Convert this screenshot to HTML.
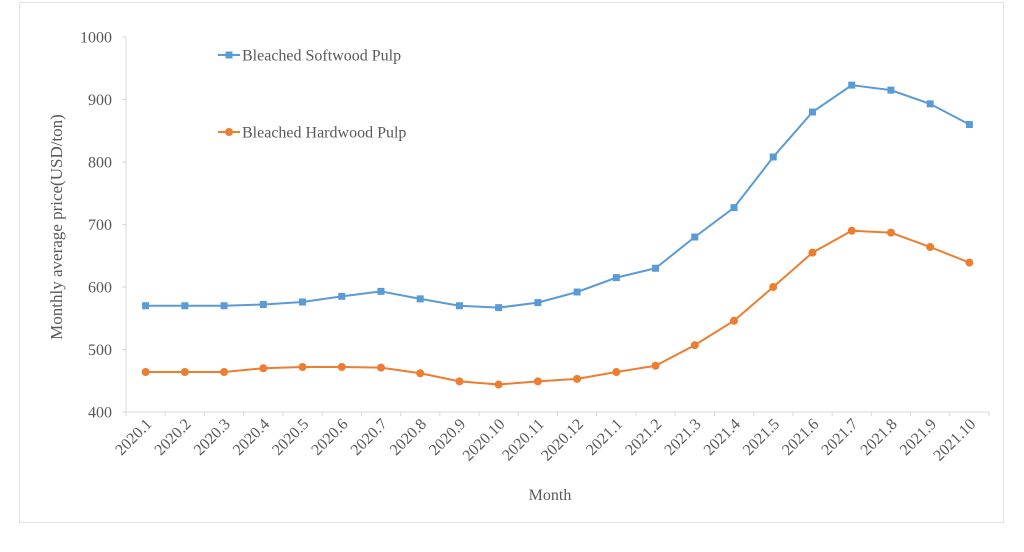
<!DOCTYPE html>
<html><head><meta charset="utf-8"><style>
body{margin:0;background:#fff;}
svg{display:block;font-family:"Liberation Serif",serif;}
</style></head><body>
<svg id="chart" width="1024" height="552" viewBox="0 0 1024 552">
<rect x="19.5" y="2.5" width="984" height="520" fill="#fff" stroke="#e3e3e3"/>
<g id="axes"></g>
<g id="series"></g>
<g>
 <g>
  <line x1="218" y1="55" x2="240" y2="55" stroke="#5b9bd5" stroke-width="2"/>
  <rect x="225.5" y="51.5" width="7" height="7" fill="#5b9bd5"/>
  <text x="242" y="60.5" font-size="16" fill="#595959">Bleached Softwood Pulp</text>
 </g>
 <g>
  <line x1="218" y1="132" x2="240" y2="132" stroke="#ed7d31" stroke-width="2"/>
  <circle cx="229" cy="132" r="4" fill="#ed7d31"/>
  <text x="242" y="137.5" font-size="16" fill="#595959">Bleached Hardwood Pulp</text>
 </g>
</g>
<text transform="translate(62,227) rotate(-90)" text-anchor="middle" font-size="17" fill="#595959">Monthly average price(USD/ton)</text>
<text x="550" y="500" text-anchor="middle" font-size="16" fill="#595959">Month</text>
</svg>
<script>
const categories=["2020.1","2020.2","2020.3","2020.4","2020.5","2020.6","2020.7","2020.8","2020.9","2020.10","2020.11","2020.12","2021.1","2021.2","2021.3","2021.4","2021.5","2021.6","2021.7","2021.8","2021.9","2021.10"];
const softwood=[570,570,570,572,576,585,593,581,570,567,575,592,615,630,680,727,808,880,923,915,893,860];
const hardwood=[464,464,464,470,472,472,471,462,449,444,449,453,464,474,507,546,600,655,690,687,664,639];
const yTicks=[400,500,600,700,800,900,1000];
const NS="http://www.w3.org/2000/svg";
const X0=126,X1=989,Y0=412,Y1=37,YMIN=400,YMAX=1000;
const band=(X1-X0)/categories.length;
function xPos(i){return X0+band*(i+0.5);}
function yPos(v){return Y0-(v-YMIN)/(YMAX-YMIN)*(Y0-Y1);}
function mk(tag,attrs,parent){const e=document.createElementNS(NS,tag);for(const k in attrs)e.setAttribute(k,attrs[k]);parent.appendChild(e);return e;}
const axes=document.getElementById('axes');
const series=document.getElementById('series');
let e=mk('line',{x1:X0,y1:Y1,x2:X0,y2:Y0,stroke:'#d9d9d9'},axes);


e=mk('line',{x1:X0,y1:Y0,x2:X1,y2:Y0,stroke:'#d9d9d9'},axes);


yTicks.forEach(v=>{
 const y=yPos(v);
 mk('line',{x1:X0-4,y1:y,x2:X0,y2:y,stroke:'#d9d9d9'},axes);
 const t=mk('text',{x:X0-14,y:y+5.5,'text-anchor':'end','font-size':16,fill:'#595959'},axes);
 t.textContent=v;
 
 
});
categories.forEach((c,i)=>{
 const xt=X0+band*i;
 mk('line',{x1:xt,y1:Y0,x2:xt,y2:Y0+4,stroke:'#d9d9d9'},axes);
 const x=xPos(i)+7,y=Y0+13;
 const t=mk('text',{x:x,y:y,'text-anchor':'end','font-size':16,fill:'#595959',transform:`rotate(-45 ${x} ${y})`},axes);
 t.textContent=c;
 
 
});
mk('line',{x1:X1,y1:Y0,x2:X1,y2:Y0+4,stroke:'#d9d9d9'},axes);
function drawSeries(vals,color,name,square){
 const g=mk('g',{},series);
 
 
 const p=mk('polyline',{points:vals.map((v,i)=>xPos(i)+','+yPos(v)).join(' '),fill:'none',stroke:color,'stroke-width':2},g);
 
 
 vals.forEach((v,i)=>{
  let m;
  if(square)m=mk('rect',{x:xPos(i)-3.5,y:yPos(v)-3.5,width:7,height:7,fill:color},g);
  else m=mk('circle',{cx:xPos(i),cy:yPos(v),r:4,fill:color},g);
  
  
 });
}
drawSeries(softwood,'#5b9bd5','softwood',true);
drawSeries(hardwood,'#ed7d31','hardwood',false);
</script>
</body></html>
